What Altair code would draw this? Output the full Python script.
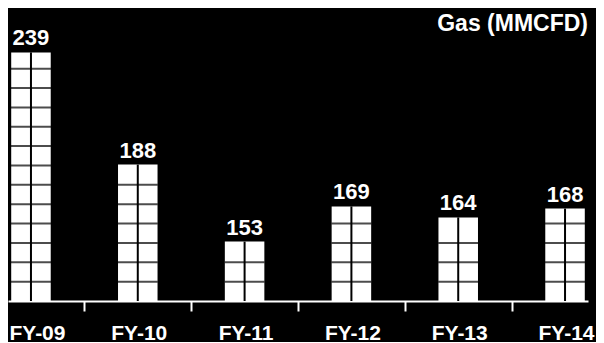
import altair as alt
import numpy as np
import pandas as pd

years = ["FY-09", "FY-10", "FY-11", "FY-12", "FY-13", "FY-14"]
gas = [239, 188, 153, 169, 164, 168]
title_text = "Gas (MMCFD)"
y_floor = 126
y_ceiling = 241
row_step = 8.8

df = pd.DataFrame({"year": years, "gas": gas})
rows = pd.DataFrame(
    [{"year": y, "level": float(lv)} for y, v in zip(years, gas)
     for lv in np.arange(y_floor + row_step, v - 3, row_step)]
)

FONT = "Liberation Sans"
W, H = 580, 253
step = W / (6 - 0.63 + 0.06)

xscale = alt.Scale(paddingInner=0.63, paddingOuter=0.03)
yscale = alt.Scale(domain=[y_floor, y_ceiling], nice=False, zero=False)

x_axis = alt.Axis(
    title=None, labelAngle=0, grid=False,
    domainColor="white", domainWidth=2,
    tickColor="white", tickWidth=2, tickSize=10,
    tickOffset=-step / 2,
    labelOffset={"condition": {"test": f"datum.value == '{years[0]}'", "value": step / 2 + 6},
                 "value": step / 2 + 1},
    labelColor="white", labelFontSize=21, labelFontWeight="bold",
    labelFont=FONT, labelPadding=11,
)

X = alt.X("year:N", sort=years, scale=xscale, axis=x_axis)
Xn = alt.X("year:N", sort=years)

bars = alt.Chart(df).mark_bar(color="white").encode(
    x=X,
    y=alt.Y("gas:Q", scale=yscale, axis=None),
    y2=alt.datum(y_floor),
)

split = alt.Chart(df).mark_rule(color="black", strokeWidth=2).encode(
    x=Xn, y="gas:Q", y2=alt.datum(y_floor)
)

cells = alt.Chart(rows).mark_tick(color="black", thickness=2, size=40).encode(
    x=Xn, y="level:Q"
)

labels = alt.Chart(df).mark_text(
    baseline="alphabetic", dy=-7, fontSize=22, fontWeight="bold",
    color="white", font=FONT
).encode(x=Xn, y="gas:Q", text="gas:Q")

chart = alt.layer(bars, split, cells, labels).properties(
    width=W, height=H,
    title=alt.TitleParams(
        title_text, anchor="end", frame="group", color="white", fontSize=23,
        fontWeight="bold", font=FONT, offset=0, dy=9,
    ),
    autosize=alt.AutoSizeParams(type="none"),
    padding={"left": 0, "top": 40, "right": 8, "bottom": 41},
    background="black",
).configure_view(stroke=None)

chart.save("out.html", embed_options={"renderer": "svg", "actions": False})
